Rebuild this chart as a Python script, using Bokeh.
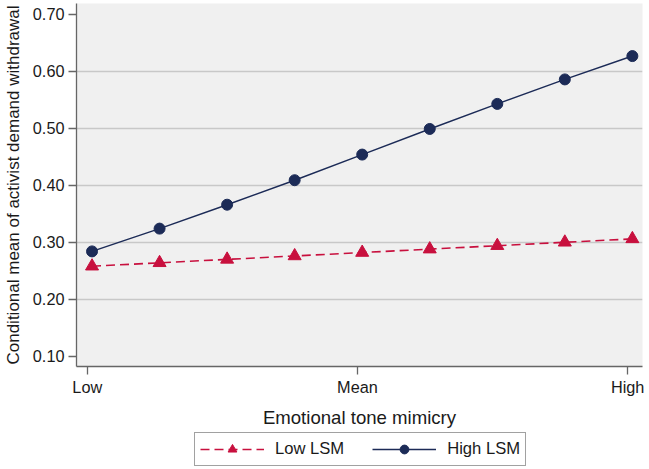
from bokeh.plotting import figure
from bokeh.layouts import column
from bokeh.models import Range1d, FixedTicker, Legend, NumeralTickFormatter
from bokeh.embed import file_html
from bokeh.resources import INLINE

# ---- data ----
x_levels = [1, 2, 3, 4, 5, 6, 7, 8, 9]
low_lsm = [0.258, 0.264, 0.270, 0.276, 0.282, 0.288, 0.294, 0.300, 0.306]
high_lsm = [0.284, 0.324, 0.366, 0.409, 0.454, 0.499, 0.543, 0.586, 0.627]
x_tick_pos = [0.93, 4.93, 8.93]
x_tick_labels = ["Low", "Mean", "High"]
y_ticks = [0.1, 0.2, 0.3, 0.4, 0.5, 0.6, 0.7]
grid_ticks = [0.2, 0.3, 0.4, 0.5, 0.6]
series_names = ["Low LSM", "High LSM"]

FONT = "Liberation Sans"
NAVY = "#1c2b57"
RED = "#c8103e"
DASH = "9 5"

p = figure(frame_width=566, frame_height=363, output_backend="svg", toolbar_location=None,
           x_range=Range1d(0.77, 9.15), y_range=Range1d(0.0819, 0.7193),
           min_border_left=73, min_border_right=3, min_border_top=3, min_border_bottom=62)
p.background_fill_color = "#f0f0f0"
p.border_fill_color = "white"
p.outline_line_color = None

p.line(x_levels, low_lsm, line_color=RED, line_width=1.6, line_dash=DASH)
p.scatter(x_levels, low_lsm, marker="triangle", size=13, fill_color=RED, line_color=RED)
p.line(x_levels, high_lsm, line_color=NAVY, line_width=1.5)
p.scatter(x_levels, high_lsm, marker="circle", size=11, fill_color=NAVY, line_color=NAVY)

# axes
for ax in (p.xaxis[0], p.yaxis[0]):
    ax.axis_line_color = "#666666"
    ax.axis_line_width = 1.3
    ax.major_tick_line_color = "#666666"
    ax.major_tick_line_width = 1.3
    ax.major_tick_in = 0
    ax.major_tick_out = 8
    ax.minor_tick_line_color = None
    ax.major_label_text_font = FONT
    ax.major_label_text_font_size = "16.3px"
    ax.major_label_text_color = "#1a1a1a"
    ax.axis_label_text_font = FONT
    ax.axis_label_text_font_style = "normal"
    ax.axis_label_text_color = "#1a1a1a"

p.xaxis.ticker = FixedTicker(ticks=x_tick_pos)
p.xaxis.major_label_overrides = {x_tick_pos[i]: x_tick_labels[i] for i in range(3)}
p.xaxis.axis_label = "Emotional tone mimicry"
p.xaxis.axis_label_text_font_size = "18.6px"
p.xaxis.major_label_standoff = 3
p.xaxis.axis_label_standoff = 8

p.yaxis.ticker = FixedTicker(ticks=y_ticks)
p.yaxis.formatter = NumeralTickFormatter(format="0.00")
p.yaxis.axis_label = "Conditional mean of activist demand withdrawal"
p.yaxis.axis_label_text_font_size = "17px"
p.yaxis.major_label_standoff = 4
p.yaxis.axis_label_standoff = 7

p.xgrid.visible = False
p.ygrid.ticker = FixedTicker(ticks=grid_ticks)
p.ygrid.grid_line_color = "#c8c8c8"
p.ygrid.grid_line_width = 1.6

# ---- legend strip below the chart (series drawn out of view, only legend shows) ----
lg = figure(frame_width=642, frame_height=36, output_backend="svg", toolbar_location=None,
            x_range=Range1d(0, 1), y_range=Range1d(10, 11),
            min_border_left=0, min_border_right=0, min_border_top=0, min_border_bottom=0)
lg.axis.visible = False
lg.grid.visible = False
lg.outline_line_color = None
lg.background_fill_color = "white"
lg.border_fill_color = "white"
g1 = lg.line(x_levels, low_lsm, line_color=RED, line_width=1.6, line_dash=DASH)
g2 = lg.scatter(x_levels, low_lsm, marker="triangle", size=13, fill_color=RED, line_color=RED)
g3 = lg.line(x_levels, high_lsm, line_color=NAVY, line_width=1.5)
g4 = lg.scatter(x_levels, high_lsm, marker="circle", size=11, fill_color=NAVY, line_color=NAVY)

legend = Legend(items=[(series_names[0], [g1, g2]), (series_names[1], [g3, g4])],
                orientation="horizontal", location=(194, 0))
legend.label_text_font = FONT
legend.label_text_font_size = "16.6px"
legend.label_text_color = "#1a1a1a"
legend.border_line_color = "#444444"
legend.border_line_width = 1
legend.background_fill_color = "white"
legend.glyph_width = 64
legend.glyph_height = 22
legend.label_height = 20
legend.label_standoff = 11
legend.spacing = 28
legend.padding = 5
legend.margin = 0
lg.add_layout(legend, "center")

layout = column(p, lg, spacing=0)
open("out.html", "w").write(file_html(layout, INLINE))
